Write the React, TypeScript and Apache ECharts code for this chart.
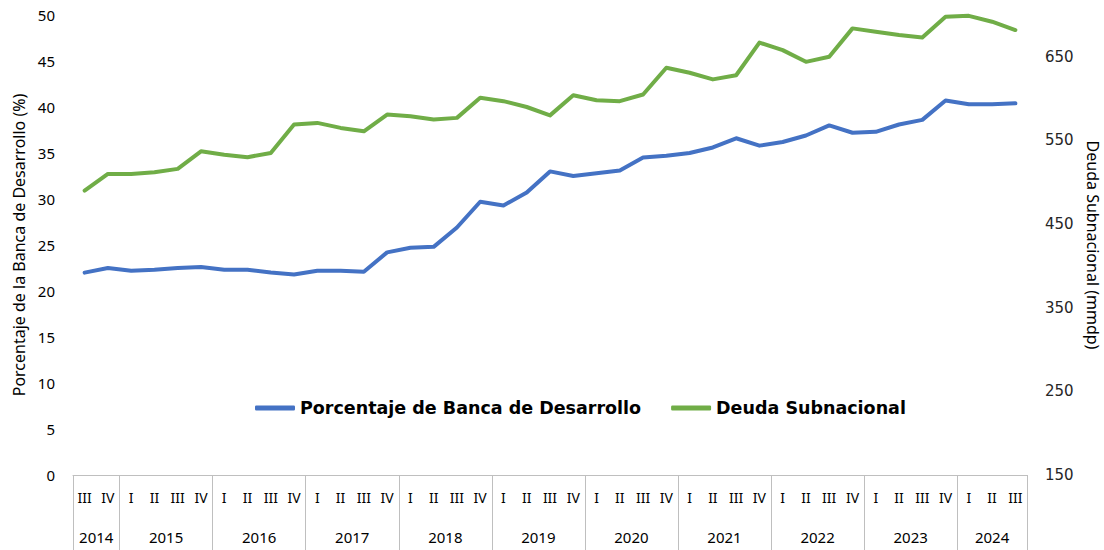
import React, { useEffect, useRef } from "react";
import * as echarts from "echarts";

const years = ["2014", "2015", "2016", "2017", "2018", "2019", "2020", "2021", "2022", "2023", "2024"];
const yearQuarters = [
  ["III", "IV"],
  ["I", "II", "III", "IV"],
  ["I", "II", "III", "IV"],
  ["I", "II", "III", "IV"],
  ["I", "II", "III", "IV"],
  ["I", "II", "III", "IV"],
  ["I", "II", "III", "IV"],
  ["I", "II", "III", "IV"],
  ["I", "II", "III", "IV"],
  ["I", "II", "III", "IV"],
  ["I", "II", "III"],
];

const bancaDesarrollo = [
  22.0, 22.5,
  22.2, 22.3, 22.5, 22.6,
  22.3, 22.3, 22.0, 21.8,
  22.2, 22.2, 22.1, 24.2,
  24.7, 24.8, 26.9, 29.7,
  29.3, 30.7, 33.0, 32.5,
  32.8, 33.1, 34.5, 34.7,
  35.0, 35.6, 36.6, 35.8,
  36.2, 36.9, 38.0, 37.2,
  37.3, 38.1, 38.6, 40.7,
  40.3, 40.3, 40.4,
];

const deudaSubnacional = [
  490, 510,
  510, 512, 516, 537,
  533, 530, 535, 569,
  571, 565, 561, 581,
  579, 575, 577, 601,
  597, 590, 580, 604,
  598, 597, 605, 637,
  631, 623, 628, 667,
  658, 644, 650, 684,
  680, 676, 673, 698,
  699, 692, 682,
];

const leftTicks = { min: 0, max: 50, interval: 5 };
const rightTicks = { min: 150, max: 700, interval: 100 };

const categories: string[] = [];
const yearStarts: number[] = [];
yearQuarters.forEach((qs, yi) => {
  yearStarts.push(categories.length);
  qs.forEach((q) => {
    categories.push(years[yi] + "-" + q);
  });
});

export default function App() {
  const ref = useRef<HTMLDivElement>(null);
  useEffect(() => {
    document.body.style.margin = "0";
    if (!ref.current) return;
    const chart = echarts.init(ref.current, null, { renderer: "svg" });
    const startSet = new Set(yearStarts);
    chart.setOption({
      animation: false,
      grid: { left: 73, right: 77, top: 15, bottom: 75, outerBoundsMode: "none" },
      legend: {
        left: 250,
        top: 394,
        icon: "roundRect",
        itemWidth: 40,
        itemHeight: 5,
        itemGap: 30,
        textStyle: { fontFamily: "DejaVu Sans", fontWeight: "bold", fontSize: 17.5, color: "#000" },
        data: ["Porcentaje de Banca de Desarrollo", "Deuda Subnacional"],
      },
      xAxis: {
        type: "category",
        data: categories,
        boundaryGap: true,
        axisLine: { lineStyle: { color: "#BFBFBF", width: 1 } },
        axisTick: {
          show: true,
          length: 75,
          interval: (index: number) => startSet.has(index),
          lineStyle: { color: "#BFBFBF", width: 1 },
        },
        axisLabel: {
          interval: 0,
          margin: 15,
          fontFamily: "Noto Sans",
          fontSize: 14,
          color: "#000",
          formatter: (v: string) => v.split("-")[1],
        },
        splitLine: { show: false },
      },
      yAxis: [
        {
          type: "value",
          ...leftTicks,
          name: "Porcentaje de la Banca de Desarrollo (%)",
          nameLocation: "middle",
          nameRotate: 90,
          nameGap: 45,
          nameTextStyle: { fontFamily: "Noto Sans", fontSize: 16, color: "#000" },
          axisLine: { show: false },
          axisTick: { show: false },
          splitLine: { show: false },
          axisLabel: { margin: 18, fontFamily: "Noto Sans", fontSize: 15, color: "#000" },
        },
        {
          type: "value",
          ...rightTicks,
          position: "right",
          name: "Deuda Subnacional (mmdp)",
          nameLocation: "middle",
          nameRotate: -90,
          nameGap: 56,
          nameTextStyle: { fontFamily: "Noto Sans", fontSize: 16, color: "#000" },
          axisLine: { show: false },
          axisTick: { show: false },
          splitLine: { show: false },
          axisLabel: {
            margin: 18,
            showMaxLabel: false,
            fontFamily: "DejaVu Sans",
            fontSize: 15,
            color: "#262626",
          },
        },
      ],
      series: [
        {
          name: "Porcentaje de Banca de Desarrollo",
          type: "line",
          yAxisIndex: 0,
          data: bancaDesarrollo,
          showSymbol: false,
          symbol: "none",
          lineStyle: { color: "#4472C4", width: 4, join: "round", cap: "round" },
          itemStyle: { color: "#4472C4" },
        },
        {
          name: "Deuda Subnacional",
          type: "line",
          yAxisIndex: 1,
          data: deudaSubnacional,
          showSymbol: false,
          symbol: "none",
          lineStyle: { color: "#70AD47", width: 4, join: "round", cap: "round" },
          itemStyle: { color: "#70AD47" },
        },
      ],
    });

    const graphics = years.map((y, yi) => {
      const s = yearStarts[yi];
      const e = s + yearQuarters[yi].length - 1;
      const x0 = chart.convertToPixel({ xAxisIndex: 0 }, s) as number;
      const x1 = chart.convertToPixel({ xAxisIndex: 0 }, e) as number;
      return {
        type: "text",
        x: (x0 + x1) / 2,
        y: 537,
        style: {
          text: y,
          fontFamily: "Noto Sans",
          fontSize: 15,
          fill: "#000",
          textAlign: "center",
          textVerticalAlign: "middle",
        },
      };
    });
    chart.setOption({ graphic: graphics });

    return () => chart.dispose();
  }, []);
  return <div ref={ref} style={{ width: 1104, height: 550 }} />;
}
